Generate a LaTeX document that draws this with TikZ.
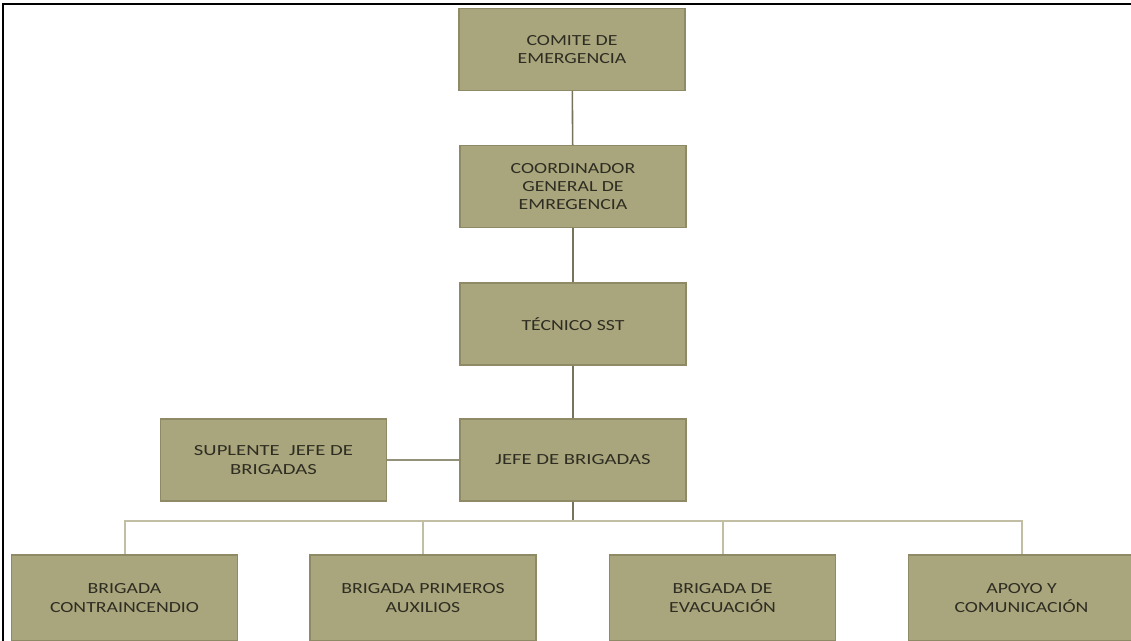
\documentclass[tikz,border=0pt]{standalone}
\usepackage{fontspec}
\setmainfont{Carlito}[FakeStretch=1.28]
\newfontfamily\widefont{Carlito}[FakeStretch=1.34]
\definecolor{boxfill}{HTML}{A9A57D}
\definecolor{boxline}{HTML}{8E8A66}
\definecolor{boxtext}{HTML}{2E2D22}
\definecolor{stemline}{HTML}{77735A}
\definecolor{sideline}{HTML}{94917A}
\definecolor{busline}{HTML}{C2BEA3}

\begin{document}
\begin{tikzpicture}
  [x=1bp,y=-1bp,every node/.style={rectangle,draw=boxline,fill=boxfill,line width=1.2bp,minimum width=226bp,minimum height=82bp,align=center,text=boxtext,font=\fontsize{15.5}{18}\selectfont}]
  \useasboundingbox (0,0) rectangle (1131,641);
  \draw[line width=2bp] (3,641) -- (3,4) -- (1131,4);

  \node (comite) at (572,49.5) {COMITE DE\\EMERGENCIA};
  \node (coord) at (573,186.5) {COORDINADOR\\GENERAL DE\\EMREGENCIA};
  \node (tecnico) at (573,324) {TÉCNICO SST};
  \node[font=\widefont\fontsize{15.5}{19}\selectfont] (jefe) at (573,460) {JEFE DE BRIGADAS};
  \node[font=\widefont\fontsize{15.5}{19}\selectfont] (suplente) at (273.5,460) {SUPLENTE\ \ JEFE DE\\BRIGADAS};

  \node[minimum height=86bp,font=\fontsize{15.5}{19}\selectfont] (contra) at (124.5,598) {BRIGADA\\CONTRAINCENDIO};
  \node[minimum height=86bp,font=\fontsize{15.5}{19}\selectfont] (auxilios) at (423,598) {BRIGADA PRIMEROS\\AUXILIOS};
  \node[minimum height=86bp,font=\fontsize{15.5}{19}\selectfont] (evacuacion) at (722.5,598) {BRIGADA DE\\EVACUACIÓN};
  \node[minimum height=86bp,font=\fontsize{15.5}{19}\selectfont] (apoyo) at (1021.5,598) {APOYO Y\\COMUNICACIÓN};

  \coordinate (bus) at (573,521);

  \draw[line width=1.6bp,stemline] (comite) -- (coord);
  \draw[line width=1.6bp,stemline] (coord) -- (tecnico);
  \draw[line width=1.6bp,stemline] (tecnico) -- (jefe);
  \draw[line width=1.8bp,sideline] (suplente) -- (jefe);
  \draw[line width=1.6bp,stemline] (jefe) -- (bus);

  \draw[line width=2bp,busline] (bus) -| (contra);
  \draw[line width=2bp,busline] (bus) -| (auxilios);
  \draw[line width=2bp,busline] (bus) -| (evacuacion);
  \draw[line width=2bp,busline] (bus) -| (apoyo);
\end{tikzpicture}
\end{document}
